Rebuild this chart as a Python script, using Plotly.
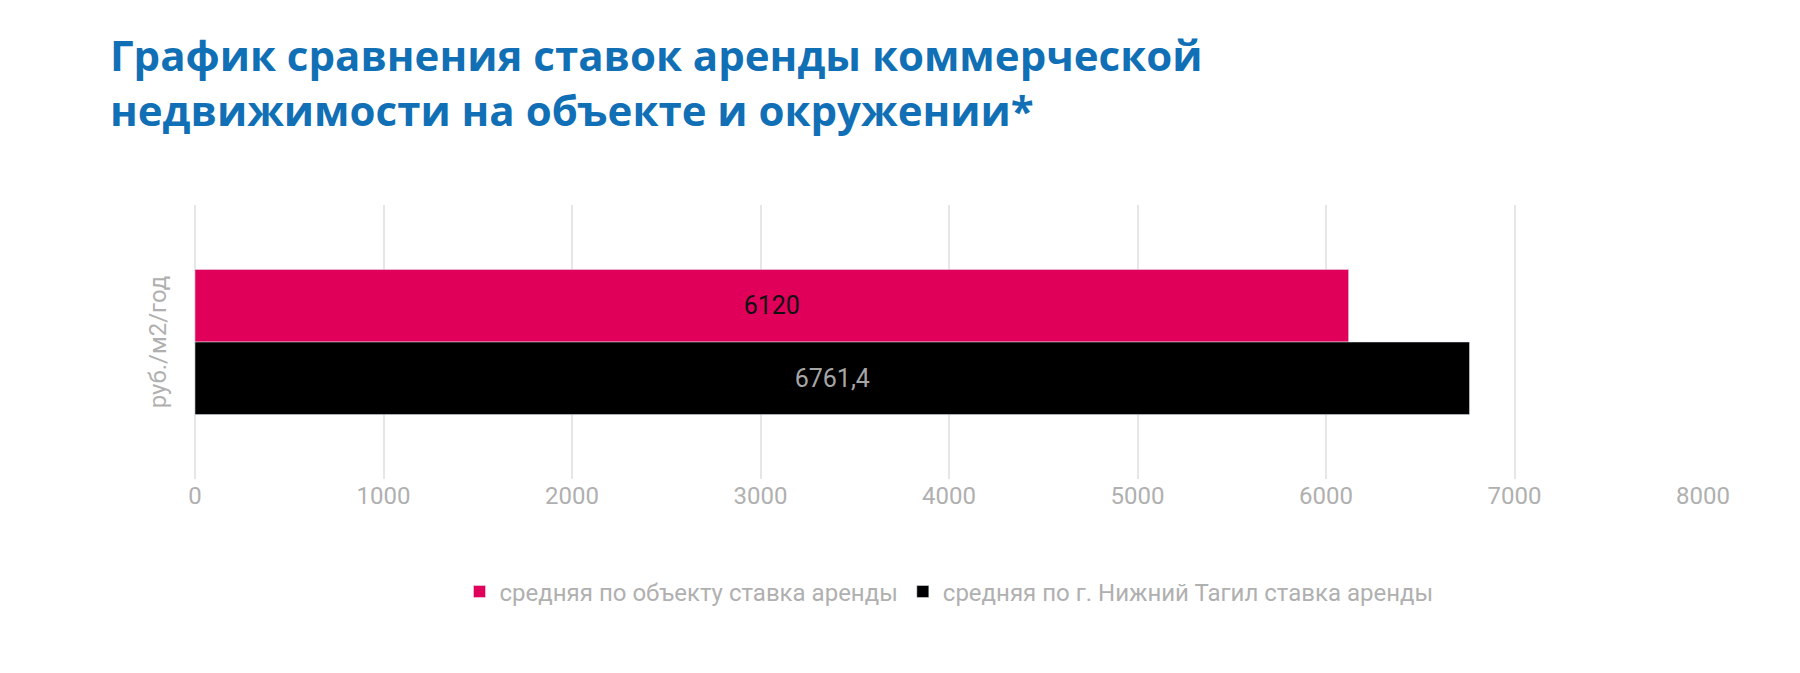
import plotly.graph_objects as go

category = ["руб./м2/год"]
object_rate = [6120]
city_rate = [6761.4]
object_labels = ["6120"]
city_labels = ["6761,4"]
series_names = ["средняя по объекту ставка аренды", "средняя по г. Нижний Тагил ставка аренды"]
title_text = "График сравнения ставок аренды коммерческой<br>недвижимости на объекте и окружении*"

font_label = "Liberation Sans Narrow, Roboto, sans-serif"

fig = go.Figure()
fig.add_trace(go.Bar(
    y=category, x=object_rate, orientation="h", name=series_names[0],
    marker_color="#E0005A", text=object_labels, textposition="inside",
    insidetextanchor="middle", textfont=dict(color="#111111", size=25, family=font_label),
))
fig.add_trace(go.Bar(
    y=category, x=city_rate, orientation="h", name=series_names[1],
    marker_color="#000000", text=city_labels, textposition="inside",
    insidetextanchor="middle", textfont=dict(color="#A6A6A6", size=25, family=font_label),
))

fig.add_annotation(
    text=title_text, xref="paper", yref="paper", x=-0.058, y=1.66,
    xanchor="left", yanchor="top", align="left", showarrow=False,
    font=dict(family="Open Sans, sans-serif", size=42, color="#1170B5", weight="bold"),
)

fig.update_layout(
    width=1800, height=673,
    paper_bgcolor="white", plot_bgcolor="white",
    barmode="group", bargap=0.47, bargroupgap=0,
    margin=dict(l=187, r=105, t=197, b=202),
    xaxis=dict(
        range=[0, 8000], dtick=1000, showgrid=True, gridcolor="#E6E6E6", gridwidth=2,
        zeroline=True, zerolinecolor="#E6E6E6", zerolinewidth=2,
        tickfont=dict(family=font_label, size=24, color="#B0B0B0"), ticks="", ticklen=12,
    ),
    yaxis=dict(
        autorange="reversed", showticklabels=False, showgrid=False,
        title=dict(text=category[0], standoff=20,
                   font=dict(family=font_label, size=24, color="#B0B0B0")),
    ),
    legend=dict(
        orientation="h", x=0.5, xanchor="center", y=-0.33, yanchor="top",
        font=dict(family=font_label, size=24, color="#B0B0B0"),
        itemwidth=30, tracegroupgap=0,
    ),
    showlegend=True,
)
fig.write_html("out.html")
